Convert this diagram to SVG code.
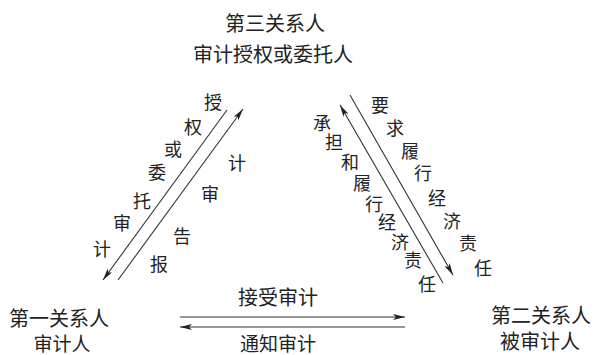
<svg xmlns="http://www.w3.org/2000/svg" width="595" height="355" viewBox="0 0 595 355">
<defs>
<marker id="ah" viewBox="0 0 12 6" refX="12" refY="3" markerWidth="12" markerHeight="6" markerUnits="userSpaceOnUse" orient="auto">
<path d="M0,0 L12,3 L0,6 L3,3 Z" fill="#222"/>
</marker>
<style>
.t{font-family:"Noto Sans CJK SC","Noto Sans CJK JP",sans-serif;font-size:20px;fill:#222;text-anchor:middle;dominant-baseline:central}
.b{font-family:"Noto Sans CJK SC","Noto Sans CJK JP",sans-serif;font-size:19px;fill:#222;text-anchor:middle;dominant-baseline:central}
.d{font-family:"Noto Sans CJK SC","Noto Sans CJK JP",sans-serif;font-size:18px;fill:#222;text-anchor:middle;dominant-baseline:central}
.c{stroke:#333;stroke-width:1.1;fill:none;marker-end:url(#ah)}
</style>
</defs>
<rect width="595" height="355" fill="#fff"/>
<g id="third">
<text class="t" x="275" y="22">第三关系人</text>
<text class="t" x="273" y="53">审计授权或委托人</text>
</g>
<g id="first">
<text class="t" x="59" y="317">第一关系人</text>
<text class="b" x="62" y="342">审计人</text>
</g>
<g id="second">
<text class="t" x="541" y="314">第二关系人</text>
<text class="t" x="540" y="340">被审计人</text>
</g>
<g id="connectors">
<line class="c" x1="227" y1="110" x2="103" y2="280"/>
<line class="c" x1="118" y1="280" x2="243" y2="109"/>
<line class="c" x1="443" y1="283" x2="340" y2="105"/>
<line class="c" x1="350" y1="95" x2="453" y2="275"/>
<line class="c" x1="180" y1="317" x2="405" y2="317"/>
<line class="c" x1="405" y1="327" x2="180" y2="327"/>
</g>
<g id="labels">
<text class="d" x="213" y="101">授</text>
<text class="d" x="193" y="126">权</text>
<text class="d" x="173" y="148">或</text>
<text class="d" x="157" y="171">委</text>
<text class="d" x="142" y="200">托</text>
<text class="d" x="122" y="222">审</text>
<text class="d" x="102" y="248">计</text>
<text class="d" x="237" y="162">计</text>
<text class="d" x="210" y="193">审</text>
<text class="d" x="182" y="235">告</text>
<text class="d" x="159" y="263">报</text>
<text class="d" x="322" y="122">承</text>
<text class="d" x="334" y="141">担</text>
<text class="d" x="350" y="161">和</text>
<text class="d" x="362" y="182">履</text>
<text class="d" x="374" y="203">行</text>
<text class="d" x="387" y="221">经</text>
<text class="d" x="400" y="241">济</text>
<text class="d" x="413" y="259">责</text>
<text class="d" x="427" y="283">任</text>
<text class="d" x="380" y="104">要</text>
<text class="d" x="395" y="127">求</text>
<text class="d" x="410" y="150">履</text>
<text class="d" x="423" y="172">行</text>
<text class="d" x="437" y="197">经</text>
<text class="d" x="452" y="220">济</text>
<text class="d" x="468" y="242">责</text>
<text class="d" x="483" y="267">任</text>
<text class="t" x="278" y="296">接受审计</text>
<text class="b" x="278" y="342">通知审计</text>
</g>
</svg>
